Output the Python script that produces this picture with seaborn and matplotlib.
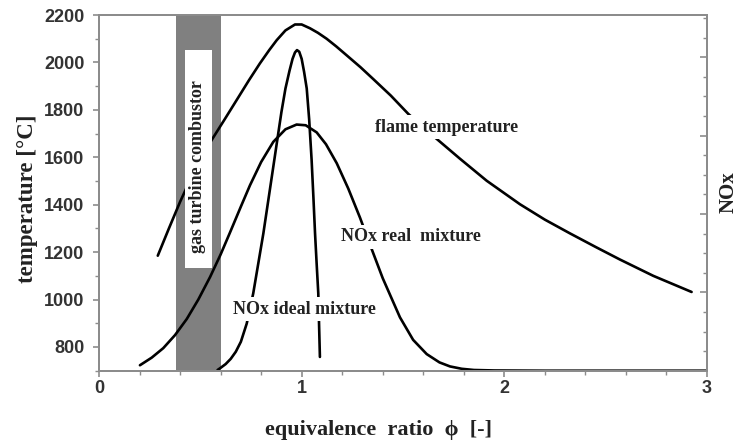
import matplotlib
matplotlib.use("Agg")
import matplotlib.pyplot as plt
import seaborn as sns
import pandas as pd
from matplotlib.patches import Rectangle
from matplotlib.ticker import MultipleLocator

# ---------------- data ----------------
flame_phi = [0.29, 0.345, 0.40, 0.45, 0.50, 0.556, 0.62, 0.679, 0.74, 0.794, 0.84, 0.877,
             0.92, 0.967, 1.0, 1.041, 1.08, 1.123, 1.17, 1.222, 1.29, 1.353, 1.44, 1.526,
             1.649, 1.781, 1.913, 2.077, 2.2, 2.324, 2.45, 2.57, 2.735, 2.924]
flame_T = [1185, 1300, 1412, 1505, 1590, 1673, 1760, 1841, 1925, 1996, 2052, 2094,
           2135, 2160, 2160, 2144, 2125, 2100, 2068, 2030, 1980, 1930, 1860, 1783,
           1690, 1594, 1501, 1402, 1337, 1279, 1222, 1169, 1100, 1032]

real_phi = [0.202, 0.26, 0.317, 0.375, 0.433, 0.49, 0.548, 0.60, 0.646, 0.70, 0.745, 0.80,
            0.86, 0.92, 0.975, 1.02, 1.074, 1.12, 1.173, 1.23, 1.288, 1.337, 1.40, 1.485,
            1.55, 1.617, 1.68, 1.732, 1.79, 1.85, 1.95, 2.2, 3.0]
real_nox = [723, 755, 795, 850, 918, 1000, 1095, 1190, 1282, 1392, 1482, 1580,
            1665, 1718, 1738, 1735, 1705, 1655, 1575, 1468, 1345, 1232, 1090, 925,
            830, 770, 735, 718, 708, 703, 701, 700, 700]

ideal_phi = [0.585, 0.60, 0.625, 0.65, 0.675, 0.70, 0.729, 0.761, 0.811, 0.86, 0.90,
             0.92, 0.94, 0.955, 0.967, 0.977, 0.988, 1.0, 1.012, 1.025, 1.037, 1.049,
             1.058, 1.066, 1.074, 1.082, 1.086, 1.09]
ideal_nox = [703, 712, 728, 750, 780, 822, 899, 1026, 1279, 1560, 1790,
             1890, 1965, 2015, 2042, 2052, 2045, 2015, 1960, 1890, 1760, 1590,
             1430, 1279, 1150, 1026, 890, 758]

x_ticks = [0, 1, 2, 3]
y_ticks = [800, 1000, 1200, 1400, 1600, 1800, 2000, 2200]

band_range = (0.38, 0.60)

annotations = [
    ("flame temperature", 1.717, 1727),
    ("NOx real  mixture", 1.539, 1264),
    ("NOx ideal mixture", 1.016, 959),
]

# ---------------- style ----------------
sns.set_theme(style="ticks")
serif = ["Liberation Serif", "DejaVu Serif"]
plt.rcParams["font.family"] = ["Liberation Sans", "DejaVu Sans"]

fig = plt.figure(figsize=(7.37, 4.43), dpi=100)
ax = fig.add_axes([99 / 737, 1 - 370.7 / 443, 608 / 737, 355.7 / 443])

spine_col = "#8c8c8c"
for s in ax.spines.values():
    s.set_color(spine_col)
    s.set_linewidth(1.4)
    s.set_visible(True)

# gray combustor band
ax.axvspan(band_range[0], band_range[1], color="#808080", lw=0, zorder=0.5)

line_kw = dict(color="black", linewidth=1.9, sort=False, estimator=None, ax=ax, zorder=2,
               solid_joinstyle="round", solid_capstyle="round")
sns.lineplot(x=flame_phi, y=flame_T, **line_kw)
sns.lineplot(x=real_phi, y=real_nox, **line_kw)
sns.lineplot(x=ideal_phi, y=ideal_nox, **line_kw)

# white label box inside band
ax.add_patch(Rectangle((0.424, 1132), 0.556 - 0.424, 2052 - 1132,
                       facecolor="white", edgecolor="none", zorder=3))
ax.text(0.487, 1560, "gas turbine combustor", rotation=90, ha="center", va="center",
        family=serif, fontweight="bold", fontsize=13, color="#222222", zorder=4)

for txt, xx, yy in annotations:
    ax.text(xx, yy, txt, ha="center", va="center", family=serif, fontweight="bold",
            fontsize=13, color="#222222", zorder=4,
            bbox=dict(boxstyle="square,pad=0.2", facecolor="white", edgecolor="none"))

ax.set_xlim(0, 3)
ax.set_ylim(700, 2200)
ax.set_xticks(x_ticks)
ax.set_yticks(y_ticks)
ax.xaxis.set_minor_locator(MultipleLocator(0.2))
ax.yaxis.set_minor_locator(MultipleLocator(100))
ax.tick_params(axis="both", which="major", direction="out", length=4.5, width=1.2,
               color=spine_col, labelsize=13, labelcolor="#333333")
ax.tick_params(axis="both", which="minor", direction="out", length=3, width=1.0,
               color=spine_col)
ax.tick_params(axis="y", pad=6)
ax.tick_params(axis="x", pad=2)
for lab in ax.get_xticklabels() + ax.get_yticklabels():
    lab.set_fontweight("bold")

ax.set_xlabel("equivalence  ratio  ϕ  [-]", family=serif, fontweight="bold",
              fontsize=16, color="#222222")
ax.xaxis.set_label_coords(0.46, -0.167)
ax.xaxis.label.set_va("center")
ax.set_ylabel("temperature [°C]", family=serif, fontweight="bold", fontsize=16.5,
              color="#222222")
ax.yaxis.set_label_coords(-0.118, 0.483)
ax.yaxis.label.set_va("center")

# right NOx axis (no numbers)
ax2 = ax.twinx()
ax2.set_ylim(0, 4.54)
ax2.yaxis.set_major_locator(MultipleLocator(1))
ax2.yaxis.set_minor_locator(MultipleLocator(0.25))
ax2.tick_params(axis="y", which="major", direction="in", length=5, width=1.2,
                color=spine_col, labelright=False)
ax2.tick_params(axis="y", which="minor", direction="in", length=3, width=1.0,
                color=spine_col)
for s in ax2.spines.values():
    s.set_color(spine_col)
    s.set_linewidth(1.4)
ax2.grid(False)
ax.text(1.035, 0.502, "NOx", rotation=90, transform=ax.transAxes, ha="center",
        va="center", family=serif, fontweight="bold", fontsize=15, color="#222222")

fig.savefig("out.png", dpi=100)
